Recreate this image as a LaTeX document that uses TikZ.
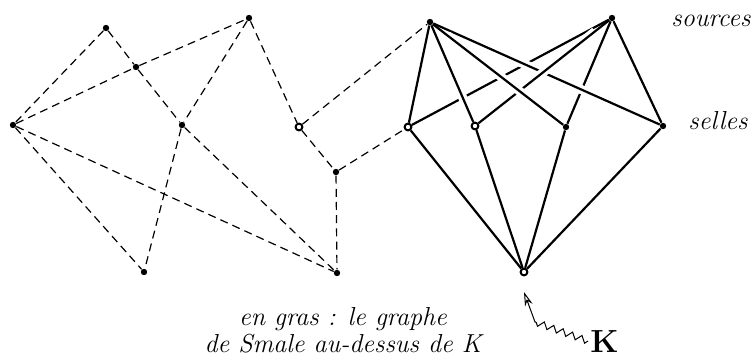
\documentclass[tikz,border=0pt]{standalone}
\usepackage{amsmath}
\usepackage{tikz}
\usetikzlibrary{calc, positioning, arrows.meta, decorations.pathmorphing}

\tikzset{
  dot/.style={circle, fill=black, inner sep=0pt, minimum size=3.2pt},
  ring/.style={circle, draw=black, fill=white, line width=1pt, inner sep=0pt, minimum size=3.4pt},
  fineedge/.style={line width=0.6pt, dash pattern=on 4pt off 2.6pt},
  boldedge/.style={line width=1.1pt},
  overedge/.style={boldedge, preaction={draw=white, line width=4.5pt, shorten <=9pt, shorten >=9pt}},
  tag/.style={font=\fontsize{13}{13.5}\selectfont\itshape, inner sep=0pt}
}

\begin{document}
\begin{tikzpicture}[x=0.5pt, y=-0.5pt]
          \useasboundingbox (0,0) rectangle (756,358);
          % left graph (dashed)
          \node[dot] (v1) at (106, 28) {};
          \node[dot] (v2) at (249, 18) {};
          \node[dot] (v3) at (136, 67) {};
          \node[dot] (v4) at (13, 125) {};
          \node[dot] (v5) at (182, 125) {};
          \node[ring] (v6) at (299, 127) {};
          \node[dot] (v7) at (336, 172) {};
          \node[dot] (v8) at (144, 272) {};
          \node[dot] (v9) at (337, 273) {};
          % sources, selles, K
          \node[dot] (s1) at (430, 22) {};
          \node[dot] (s2) at (612, 18) {};
          \node[ring] (t1) at (408, 127) {};
          \node[ring] (t2) at (475, 126) {};
          \node[dot] (t3) at (566, 127) {};
          \node[dot] (t4) at (663, 126) {};
          \node[ring] (k0) at (524, 272) {};
          \draw[fineedge] (v1) -- (v4);
          \draw[fineedge] (v1) -- (v3);
          \draw[fineedge] (v3) -- (v5);
          \draw[fineedge] (v5) -- (v9);
          \draw[fineedge] (v4) -- (v3);
          \draw[fineedge] (v3) -- (v2);
          \draw[fineedge] (v2) -- (v5);
          \draw[fineedge] (v5) -- (v8);
          \draw[fineedge] (v2) -- (v6);
          \draw[fineedge] (v6) -- (v7);
          \draw[fineedge] (v7) -- (v9);
          \draw[fineedge] (v4) -- (v8);
          \draw[fineedge] (v4) -- (v9);
          \draw[fineedge] (v6) -- (s1);
          \draw[fineedge] (v7) -- (t1);
          % Smale graph, drawn from back to front
          \draw[overedge] (s2) -- (t1);
          \draw[overedge] (s2) -- (t3);
          \draw[overedge] (s1) -- (t4);
          \draw[overedge] (s2) -- (t2);
          \draw[overedge] (s1) -- (t1);
          \draw[overedge] (s1) -- (t2);
          \draw[overedge] (s1) -- (t3);
          \draw[overedge] (s2) -- (t4);
          \draw[boldedge] (t1) -- (k0);
          \draw[boldedge] (t2) -- (k0);
          \draw[boldedge] (t3) -- (k0);
          \draw[boldedge] (t4) -- (k0);
          % labels
          \node[tag, anchor=base west] (src) at (671, 27) {sources};
          \node[tag, anchor=base west] (sel) at (688, 130) {selles};
          \node[tag, align=center, anchor=south] (legend) at (343, 353) {en gras : le graphe\\de Smale au-dessus de K};
          \node[inner sep=0pt, anchor=base west, font=\fontsize{16}{18}\selectfont\bfseries] (klab) at (590, 352) {K};
          \coordinate (kbend) at (535, 322);
          \coordinate (ktip) at (524, 292);
          \draw[line width=0.5pt, -{Stealth[open, length=7pt, width=4pt]}] ([xshift=-1pt]klab.west) decorate[decoration={zigzag, amplitude=1.6pt, segment length=5pt}] {-- (kbend)} -- (ktip);
      \end{tikzpicture}
\end{document}
